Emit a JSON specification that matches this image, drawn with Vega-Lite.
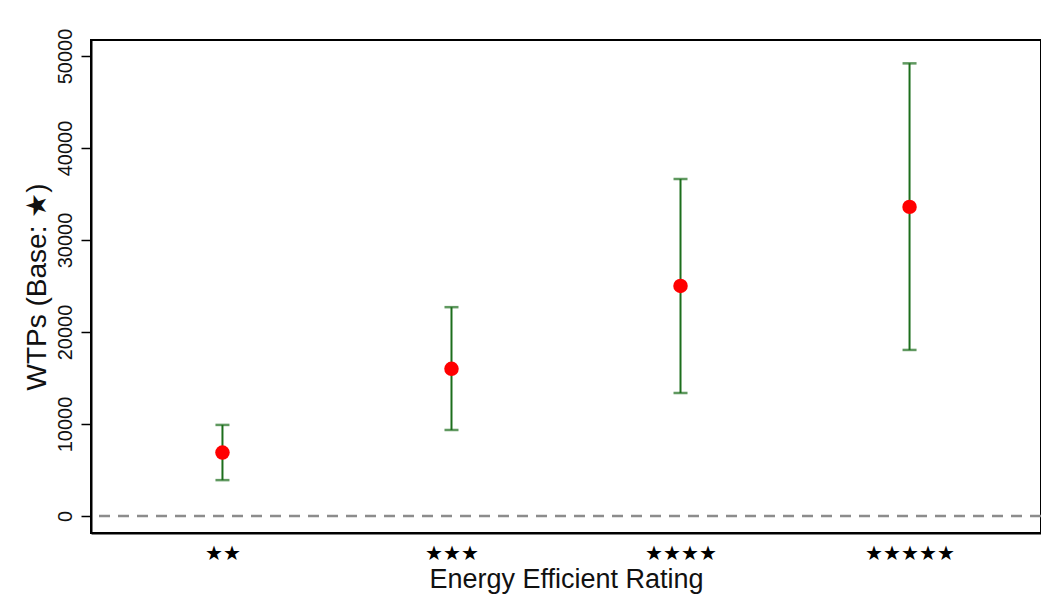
{
  "$schema": "https://vega.github.io/schema/vega-lite/v6.json",
  "autosize": "none",
  "width": 950,
  "height": 493,
  "padding": {"left": 91, "top": 40, "right": 0, "bottom": 79},
  "background": "white",
  "config": {
    "font": "Liberation Sans",
    "view": {"stroke": "black", "strokeWidth": 2}
  },
  "data": {
    "values": [
      {"rating": "★★", "wtp": 6900, "lo": 3900, "hi": 9900},
      {"rating": "★★★", "wtp": 16000, "lo": 9350, "hi": 22700},
      {"rating": "★★★★", "wtp": 25000, "lo": 13370, "hi": 36630},
      {"rating": "★★★★★", "wtp": 33600, "lo": 18050, "hi": 49200}
    ]
  },
  "encoding": {
    "x": {
      "field": "rating", "type": "ordinal", "sort": null,
      "scale": {"type": "point", "padding": 0.574},
      "axis": {
        "title": "Energy Efficient Rating", "titleFontSize": 27, "titleFontWeight": "normal",
        "titleColor": "#111", "titlePadding": 3,
        "labelAngle": 0, "labelFontSize": 20, "labelColor": "#000", "labelPadding": 10,
        "ticks": false, "domainColor": "#000", "domainWidth": 2, "grid": false
      }
    }
  },
  "layer": [
    {
      "data": {"values": [{"z": 0}]},
      "mark": {"type": "rule", "color": "#8c8c8c", "strokeWidth": 2.5, "strokeDash": [11, 8]},
      "encoding": {"y": {"field": "z", "type": "quantitative"}, "x": null}
    },
    {
      "mark": {"type": "rule", "color": "#1c6e1c", "strokeWidth": 2},
      "encoding": {
        "y": {
          "field": "lo", "type": "quantitative",
          "scale": {"domain": [-1848, 51739], "nice": false, "zero": false},
          "axis": {
            "title": "WTPs (Base: ★)", "titleFontSize": 28, "titleFontWeight": "normal",
            "titleColor": "#111", "titlePadding": 4,
            "values": [0, 10000, 20000, 30000, 40000, 50000],
            "format": "d", "labelAngle": -90, "labelFontSize": 20, "labelColor": "#111",
            "labelPadding": 6, "labelAlign": "center", "labelBaseline": "bottom",
            "tickSize": 10, "tickColor": "#000", "tickWidth": 1.5,
            "domainColor": "#000", "domainWidth": 2, "grid": false
          }
        },
        "y2": {"field": "hi"}
      }
    },
    {
      "mark": {"type": "tick", "orient": "horizontal", "color": "#1c6e1c", "thickness": 2.5, "size": 14},
      "encoding": {"y": {"field": "lo", "type": "quantitative"}}
    },
    {
      "mark": {"type": "tick", "orient": "horizontal", "color": "#1c6e1c", "thickness": 2.5, "size": 14},
      "encoding": {"y": {"field": "hi", "type": "quantitative"}}
    },
    {
      "mark": {"type": "point", "filled": true, "color": "#ff0000", "opacity": 1, "size": 210},
      "encoding": {"y": {"field": "wtp", "type": "quantitative"}}
    }
  ]
}
